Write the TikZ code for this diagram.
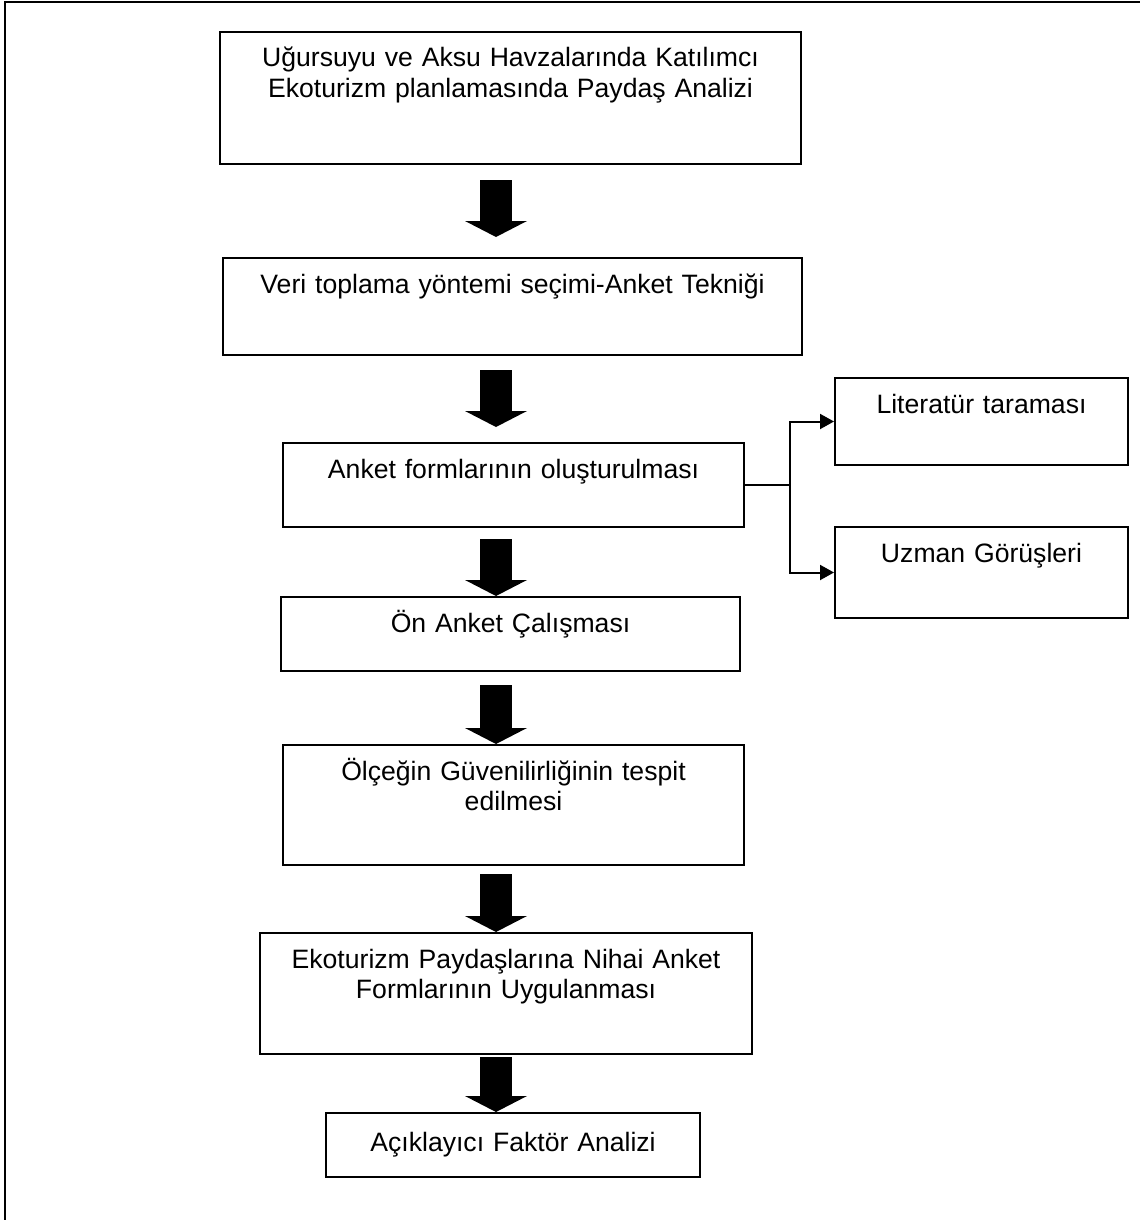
\documentclass[tikz,border=0pt]{standalone}
\usepackage{fontspec}
\setmainfont{Liberation Sans}
\usetikzlibrary{arrows.meta}

\begin{document}
\begin{tikzpicture}[x=1pt, y=-1pt,
    box/.style={draw, line width=1pt, anchor=north west, align=center,
        inner xsep=0pt, inner ysep=0pt, text height=17.5pt,
        font=\fontsize{13.3}{15.3}\selectfont},
    bigarrow/.style={line width=16pt, -{Triangle[width=31pt, length=8pt, line width=0pt]}},
    branch/.style={line width=1pt, -{Triangle[width=7.5pt, length=7pt]}}]
    \useasboundingbox (0,0) rectangle (570,610);
    \draw[line width=1pt] (2.5,610) |- (570,1);
    % main column
    \node[box, text width=290.5pt, text depth=48.5pt] (plan) at (109.5,15.5) {Uğursuyu ve Aksu Havzalarında Katılımcı\\Ekoturizm planlamasında Paydaş Analizi};
    \node[box, text width=289.5pt, text depth=31pt] (method) at (111,128.5) {Veri toplama yöntemi seçimi-Anket Tekniği};
    \node[box, text width=230.5pt, text depth=24.5pt] (forms) at (141,221) {Anket formlarının oluşturulması};
    \node[box, text width=229.5pt, text depth=19.5pt] (pilot) at (140,298) {Ön Anket Çalışması};
    \node[box, text width=230.5pt, text depth=42.5pt] (reliab) at (141,372) {Ölçeğin Güvenilirliğinin tespit\\edilmesi};
    \node[box, text width=246pt, text depth=43pt] (apply) at (129.5,466) {Ekoturizm Paydaşlarına Nihai Anket\\Formlarının Uygulanması};
    \node[box, text width=187pt, text height=19pt, text depth=13pt] (efa) at (162.5,556) {Açıklayıcı Faktör Analizi};
    % side boxes
    \node[box, text width=146.5pt, text depth=26pt] (lit) at (417,188.5) {Literatür taraması};
    \node[box, text width=146.5pt, text depth=28pt] (expert) at (417,263) {Uzman Görüşleri};
    \coordinate (ax) at (248,0);
    \coordinate (fork) at (395,0);
    % block arrows
    \draw[bigarrow, shorten <=7.5pt, shorten >=10pt] (plan.south -| ax) -- (method.north -| ax);
    \draw[bigarrow, shorten <=7pt, shorten >=7.5pt] (method.south -| ax) -- (forms.north -| ax);
    \draw[bigarrow, shorten <=5.5pt] (forms.south -| ax) -- (pilot.north -| ax);
    \draw[bigarrow, shorten <=6.5pt] (pilot.south -| ax) -- (reliab.north -| ax);
    \draw[bigarrow, shorten <=4pt] (reliab.south -| ax) -- (apply.north -| ax);
    \draw[bigarrow, shorten <=1pt] (apply.south -| ax) -- (efa.north -| ax);
    % branches
    \draw[branch] (forms.east) -- (forms.east -| fork) |- (lit.west);
    \draw[branch] (forms.east -| fork) |- (expert.west);
\end{tikzpicture}
\end{document}
